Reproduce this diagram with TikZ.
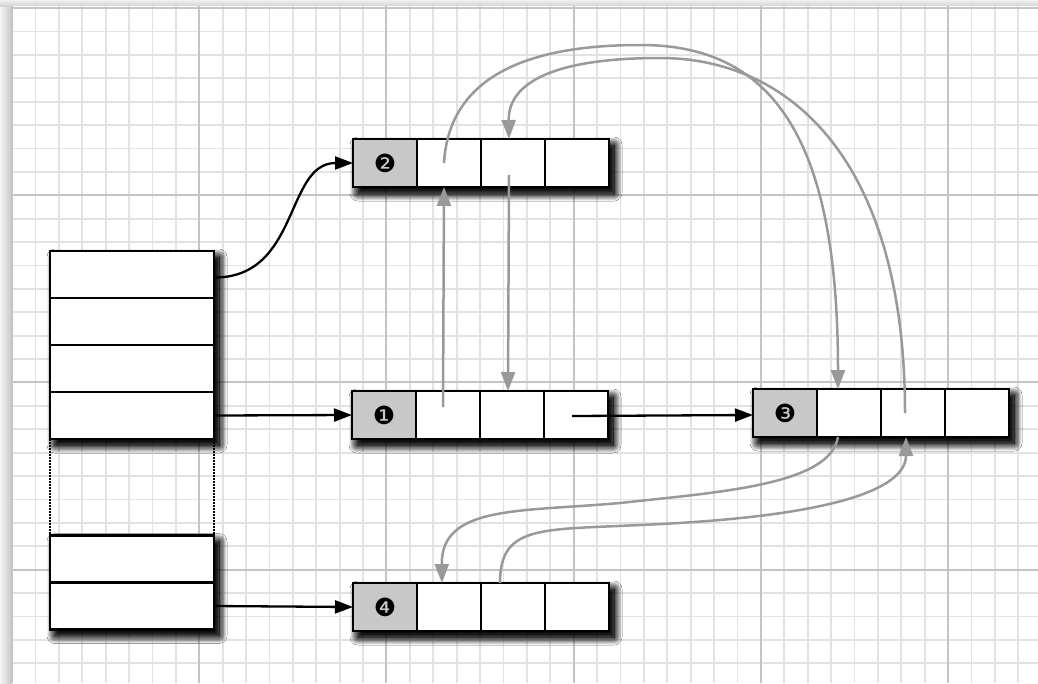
\documentclass[tikz,border=0pt]{standalone}
\usepackage{fontspec}
\newfontfamily\dingfont{DejaVu Sans}
\usetikzlibrary{arrows.meta,shadows.blur}
\definecolor{gridminor}{HTML}{E2E2E2}
\definecolor{gridmajor}{HTML}{C4C4C4}
\definecolor{arrowgray}{HTML}{999999}
\definecolor{cellgray}{HTML}{C8C8C8}
\tikzset{
  cell/.style={draw=black, line width=2.6pt, fill=white, minimum width=64pt,
    minimum height=48pt, inner sep=0pt, outer sep=0pt},
  headcell/.style={cell, fill=cellgray, font=\dingfont\fontsize{25}{25}\selectfont},
  stackcell/.style={draw=black, line width=2.6pt, fill=white, minimum width=164pt,
    minimum height=47pt, inner sep=0pt, outer sep=0pt},
  shadowbox/.style={inner sep=0pt, outer sep=0pt, fill=white,
    blur shadow={shadow xshift=5pt, shadow yshift=-6pt, shadow blur radius=8pt,
      shadow blur steps=12, shadow opacity=100}},
  blackarrow/.style={draw=black, line width=2.3pt, -{Triangle[length=18pt,width=13pt]}},
  grayarrow/.style={draw=arrowgray, line width=2.5pt, -{Triangle[length=19pt,width=14pt]}},
  minorline/.style={draw=gridminor, line width=1.8pt},
  majorline/.style={draw=gridmajor, line width=2pt},
}
\begin{document}
\begin{tikzpicture}[x=1pt,y=-1pt]
\useasboundingbox (0,0) rectangle (1038,683);
% paper background and grid
\fill[gray!20] (0,0) rectangle (1038,683);
\shade[left color=gray!8, right color=gray!45] (0,6) rectangle (12,683);
\shade[top color=gray!12, bottom color=gray!35] (0,0) rectangle (1038,6);
\fill[white] (12,6) rectangle (1038,683);
\foreach \i in {0,...,44} {\draw[minorline] ({12+\i*23.4},6) -- ({12+\i*23.4},683);}
\foreach \j in {0,...,29} {\draw[minorline] (12,{8+\j*23.4}) -- (1038,{8+\j*23.4});}
\foreach \i in {0,8,...,40} {\draw[majorline] ({12+\i*23.4},6) -- ({12+\i*23.4},683);}
\foreach \j in {0,8,...,24} {\draw[majorline] (12,{8+\j*23.4}) -- (1038,{8+\j*23.4});}

% shadows behind the arrays and stacks (drawn twice for depth)
\foreach \k in {1,2} {
  \node[shadowbox, minimum width=256pt, minimum height=48pt] (sh2-\k) at (481,163) {};
  \node[shadowbox, minimum width=256pt, minimum height=48pt] (sh1-\k) at (480,415) {};
  \node[shadowbox, minimum width=256pt, minimum height=48pt] (sh3-\k) at (881,413) {};
  \node[shadowbox, minimum width=256pt, minimum height=48pt] (sh4-\k) at (481,607) {};
  \node[shadowbox, minimum width=164pt, minimum height=188pt] (shs-\k) at (132,345) {};
  \node[shadowbox, minimum width=164pt, minimum height=94pt] (sht-\k) at (132,582.5) {};
}

% array 2
\node[headcell] (b2c1) at (385,163) {❷};
\node[cell, anchor=west] (b2c2) at (b2c1.east) {};
\node[cell, anchor=west] (b2c3) at (b2c2.east) {};
\node[cell, anchor=west] (b2c4) at (b2c3.east) {};
% array 1
\node[headcell] (b1c1) at (384,415) {❶};
\node[cell, anchor=west] (b1c2) at (b1c1.east) {};
\node[cell, anchor=west] (b1c3) at (b1c2.east) {};
\node[cell, anchor=west] (b1c4) at (b1c3.east) {};
% array 3
\node[headcell] (b3c1) at (785,413) {❸};
\node[cell, anchor=west] (b3c2) at (b3c1.east) {};
\node[cell, anchor=west] (b3c3) at (b3c2.east) {};
\node[cell, anchor=west] (b3c4) at (b3c3.east) {};
% array 4
\node[headcell] (b4c1) at (385,607) {❹};
\node[cell, anchor=west] (b4c2) at (b4c1.east) {};
\node[cell, anchor=west] (b4c3) at (b4c2.east) {};
\node[cell, anchor=west] (b4c4) at (b4c3.east) {};
% left stacks
\node[stackcell] (s1) at (132,274.5) {};
\node[stackcell, anchor=north] (s2) at (s1.south) {};
\node[stackcell, anchor=north] (s3) at (s2.south) {};
\node[stackcell, anchor=north] (s4) at (s3.south) {};
\node[stackcell] (t1) at (132,559) {};
\node[stackcell, anchor=north] (t2) at (t1.south) {};

% dotted continuation of the stack
\draw[line width=1.8pt, dash pattern=on 1.5pt off 1.5pt] (s4.south west) -- (t1.north west);
\draw[line width=1.8pt, dash pattern=on 1.5pt off 1.5pt] (s4.south east) -- (t1.north east);

% black pointers
\draw[blackarrow] ([yshift=-3pt]s1.east) .. controls (300,278) and (285,163) .. (b2c1.west);
\draw[blackarrow] (s4.east) -- (b1c1.west);
\draw[blackarrow] (t2.east) -- (b4c1.west);
\draw[blackarrow] ([xshift=-4pt,yshift=-1pt]b1c4.center) -- (b3c1.west |- b1c4.center);

% gray links
\draw[grayarrow] ([xshift=-5pt,yshift=8pt]b1c2.center) -- ([xshift=-5pt]b2c2.south);
\draw[grayarrow] ([xshift=-4pt,yshift=-12pt]b2c3.center) -- ([xshift=-4pt]b1c3.north);
\draw[grayarrow] ([xshift=-5pt]b2c2.center) .. controls (450,60) and (560,45) .. (641,45)
   .. controls (780,45) and (838,150) .. ([xshift=-11pt]b3c2.north);
\draw[grayarrow] ([xshift=-8pt]b3c3.center) .. controls (905,160) and (790,58) .. (660,58)
   .. controls (560,58) and (508,80) .. ([xshift=-4pt]b2c3.north);
\draw[grayarrow] ([xshift=-11pt]b3c2.south) .. controls (830,485) and (720,492) .. (620,503)
   .. controls (520,512) and (441,505) .. ([xshift=-7pt]b4c2.north);
\draw[grayarrow] ([xshift=-13pt]b4c3.north) .. controls (500,525) and (540,530) .. (640,525)
   .. controls (830,517) and (906,490) .. ([xshift=-7pt]b3c3.south);
\end{tikzpicture}
\end{document}
